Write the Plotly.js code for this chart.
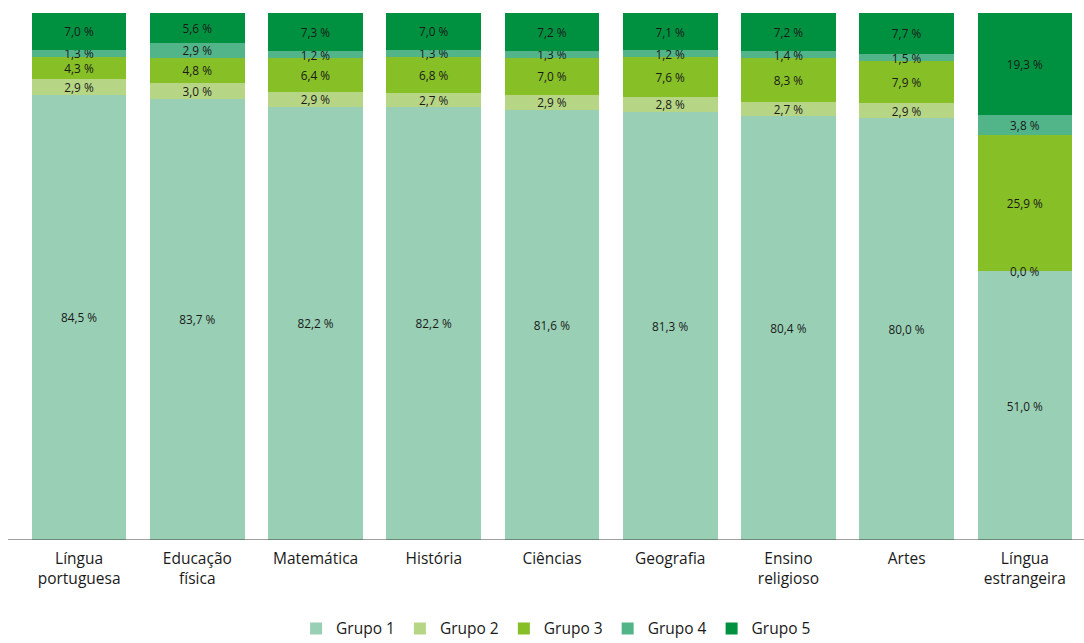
<!DOCTYPE html>
<html>
<head>
<meta charset="utf-8">
<script src="https://cdn.plot.ly/plotly-3.0.1.min.js"></script>
<style>html,body{margin:0;padding:0;background:#fff;}#chart{width:1084px;height:643px;}</style>
</head>
<body>
<div id="chart"></div>
<script>
const categories = ["Língua<br>portuguesa","Educação<br>física","Matemática","História","Ciências","Geografia","Ensino<br>religioso","Artes","Língua<br>estrangeira"];
const grupo1 = [84.5, 83.7, 82.2, 82.2, 81.6, 81.3, 80.4, 80.0, 51.0];
const grupo2 = [2.9, 3.0, 2.9, 2.7, 2.9, 2.8, 2.7, 2.9, 0.0];
const grupo3 = [4.3, 4.8, 6.4, 6.8, 7.0, 7.6, 8.3, 7.9, 25.9];
const grupo4 = [1.3, 2.9, 1.2, 1.3, 1.3, 1.2, 1.4, 1.5, 3.8];
const grupo5 = [7.0, 5.6, 7.3, 7.0, 7.2, 7.1, 7.2, 7.7, 19.3];
const seriesNames = ["Grupo 1","Grupo 2","Grupo 3","Grupo 4","Grupo 5"];
const seriesColors = ["#99D0B5","#B7D685","#86BF26","#52B58A","#009140"];
const seriesData = [grupo1, grupo2, grupo3, grupo4, grupo5];

const fmt = v => v.toFixed(1).replace('.', ',') + ' %';
const FONT = "Open Sans, Noto Sans, sans-serif";
const LBL = 11.8;

const traces = seriesData.map((vals, i) => ({
  type: 'bar',
  name: seriesNames[i],
  x: categories,
  y: vals,
  marker: {color: seriesColors[i], line: {width: 0}},
  text: vals.map(v => v > 0 ? fmt(v) : ''),
  textposition: 'inside',
  insidetextanchor: 'middle',
  constraintext: 'none',
  textangle: 0,
  textfont: {family: FONT, size: LBL, color: '#1a1a1a'},
  hoverinfo: 'x+y'
}));

// labels for zero-height segments, placed at the segment's stacked position
const annotations = [];
seriesData.forEach((vals, i) => {
  vals.forEach((v, j) => {
    if (v === 0) {
      let base = 0;
      for (let k = 0; k < i; k++) base += seriesData[k][j];
      annotations.push({x: categories[j], y: base, xref: 'x', yref: 'y', text: fmt(v), showarrow: false,
        font: {family: FONT, size: LBL, color: '#1a1a1a'}});
    }
  });
});

const layout = {
  width: 1084, height: 643,
  margin: {l: 20, r: 0, t: 13, b: 103},
  barmode: 'stack',
  bargap: 0.2,
  paper_bgcolor: '#fff', plot_bgcolor: '#fff',
  showlegend: true,
  legend: {orientation: 'h', xref: 'container', yref: 'container', x: 0.513, xanchor: 'center', y: 0.022, yanchor: 'middle',
    font: {family: FONT, size: 15.5, color: '#1a1a1a'}, traceorder: 'normal', itemwidth: 30},
  xaxis: {showgrid: false, zeroline: false, showline: false, ticks: 'outside', ticklen: 4, tickcolor: 'rgba(0,0,0,0)',
    tickfont: {family: FONT, size: 15.5, color: '#1a1a1a'}, automargin: false},
  yaxis: {range: [0, 100], visible: false, showgrid: false, zeroline: false, fixedrange: true},
  shapes: [{type: 'line', xref: 'paper', yref: 'y', x0: -12/1064, x1: 1, y0: 0, y1: 0,
    line: {color: '#404040', width: 1}}],
  annotations: annotations
};

Plotly.newPlot('chart', traces, layout, {displayModeBar: false, staticPlot: true});
</script>
</body>
</html>
